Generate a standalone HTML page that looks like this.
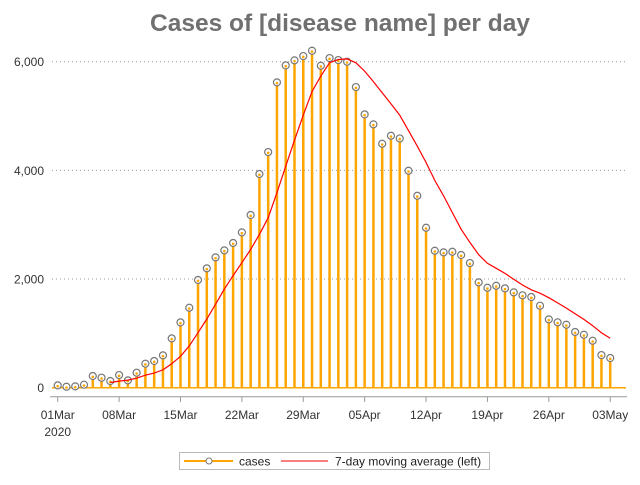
<!DOCTYPE html>
<html><head><meta charset="utf-8">
<style>
body{margin:0;background:#fff;}
svg text{font-family:"Liberation Sans",sans-serif;}
</style></head>
<body>
<svg id="chart" width="640" height="480" xmlns="http://www.w3.org/2000/svg">
<text x="340" y="31" text-anchor="middle" font-size="24.5" font-weight="bold" fill="#707070">Cases of [disease name] per day</text>
<g id="grid"></g>
<g id="yaxis"></g>
<g id="xaxis"></g>
<g id="bars"></g>
<g id="avg"></g>
<g id="legend">
<rect x="179.5" y="452.5" width="310" height="17" fill="#fff" stroke="#bbb"/>
<line x1="184" y1="461" x2="233" y2="461" stroke="#FFA500" stroke-width="2"/>
<circle cx="209" cy="461" r="3" fill="#fff" stroke="#777"/>
<text x="239" y="465.5" font-size="12" fill="#222">cases</text>
<line x1="281" y1="461" x2="328" y2="461" stroke="#e00" stroke-width="1"/>
<text x="335" y="465.5" font-size="12" fill="#222">7-day moving average (left)</text>
</g>
</svg>
<script>
const cases = [43,18,25,55,215,184,123,233,135,276,442,491,595,908,1202,1472,1982,2196,2399,2528,2663,2859,3178,3933,4337,5620,5932,6025,6104,6202,5926,6067,6030,6000,5533,5030,4847,4490,4637,4588,3993,3533,2944,2521,2491,2502,2442,2294,1939,1840,1877,1828,1755,1700,1669,1509,1258,1203,1159,1025,975,865,601,546];
const avgStart = 6;
const movingAvg = [95,122,139,174,230,269,328,440,578,769,1013,1264,1536,1812,2063,2300,2544,2822,3128,3588,4075,4555,5018,5450,5735,5982,6041,6051,5980,5827,5633,5428,5224,5018,4731,4445,4147,3815,3530,3225,2918,2675,2448,2290,2198,2103,1996,1890,1801,1740,1657,1560,1465,1360,1257,1142,1012,911];
const yTicks = [0,2000,4000,6000];
const yTickLabels = ["0","2,000","4,000","6,000"];
const xTickDays = [0,7,14,21,28,35,42,49,56,63];
const xTickLabels = ["01Mar","08Mar","15Mar","22Mar","29Mar","05Apr","12Apr","19Apr","26Apr","03May"];

const NS="http://www.w3.org/2000/svg";
const x0=57.7, dx=8.77, yBase=387.7, yTop=61.7, yMax=6000;
const xs=d=>x0+d*dx;
const ys=v=>yBase-(v/yMax)*(yBase-yTop);
function mk(tag,attrs,parent){const e=document.createElementNS(NS,tag);for(const k in attrs)e.setAttribute(k,attrs[k]);document.getElementById(parent).appendChild(e);return e;}

yTicks.forEach((v,i)=>{
  if(v>0){const g=mk('line',{x1:52,x2:626,y1:ys(v),y2:ys(v),stroke:'#999','stroke-dasharray':'1,3'},'grid');
  
  }
  const t=mk('text',{x:44,y:ys(v)+4.5,'text-anchor':'end','font-size':12,fill:'#333'},'yaxis');
  t.textContent=yTickLabels[i];
  
  
});
const ax=mk('line',{x1:50,x2:627,y1:396.7,y2:396.7,stroke:'#999'},'xaxis');


xTickDays.forEach((d,i)=>{
  const tk=mk('line',{x1:xs(d),x2:xs(d),y1:396.7,y2:402,stroke:'#999'},'xaxis');
  
  
  const t=mk('text',{x:xs(d),y:419,'text-anchor':'middle','font-size':12,fill:'#333'},'xaxis');
  t.textContent=xTickLabels[i];
  
  
});
const yr=mk('text',{x:xs(0),y:436,'text-anchor':'middle','font-size':12,fill:'#333'},'xaxis');
yr.textContent='2020';



const bl=mk('line',{x1:52,x2:626,y1:yBase,y2:yBase,stroke:'#FFA500','stroke-width':1.5},'bars');


cases.forEach((v,d)=>{
  const b=mk('line',{x1:xs(d),x2:xs(d),y1:yBase,y2:ys(v),stroke:'#FFA500','stroke-width':2.5},'bars');
  
  
  const c=mk('circle',{cx:xs(d),cy:ys(v),r:3.5,fill:'#fff',stroke:'#777','stroke-width':1.2},'bars');
  
  
  mk('circle',{cx:xs(d),cy:ys(v)+0.8,r:1.3,fill:'#FFA500'},'bars');
});
const pts=movingAvg.map((v,i)=>xs(avgStart+i).toFixed(1)+','+ys(v).toFixed(1)).join(' ');
const pl=mk('polyline',{points:pts,fill:'none',stroke:'#f00','stroke-width':1.2},'avg');


</script>
</body></html>
